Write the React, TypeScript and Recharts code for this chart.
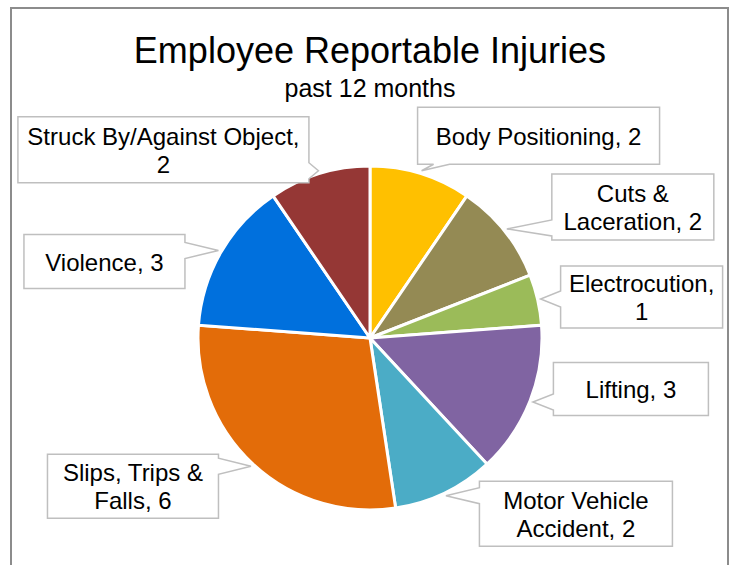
import { Cell, Pie, PieChart } from 'recharts';

const categories = [
  'Body Positioning',
  'Cuts & Laceration',
  'Electrocution',
  'Lifting',
  'Motor Vehicle Accident',
  'Slips, Trips & Falls',
  'Violence',
  'Struck By/Against Object',
];
const injuryCounts = [2, 2, 1, 3, 2, 6, 3, 2];
const sliceColors = ['#FFC000', '#948A54', '#9BBB59', '#8064A2', '#4BACC6', '#E36C09', '#0070DD', '#953735'];

// callout box placement, relative to the tip on the slice edge
// firstLine = how many words go on the first line (0 = single line)
const callouts = [
  { dx: 117, dy: -35, w: 242, h: 57, firstLine: 0 },
  { dx: 126, dy: -22, w: 162, h: 66, firstLine: 2 },
  { dx: 101, dy: -2, w: 162, h: 62, firstLine: 1 },
  { dx: 98, dy: -13, w: 155, h: 53, firstLine: 0 },
  { dx: 130, dy: 18, w: 193, h: 65, firstLine: 2 },
  { dx: -118, dy: 20, w: 171, h: 64, firstLine: 3 },
  { dx: -114, dy: 11, w: 161, h: 54, firstLine: 0 },
  { dx: -155, dy: -21, w: 291, h: 66, firstLine: 3 },
];

const data = categories.map((name, i) => ({ name, value: injuryCounts[i] }));

const FONT = "'Liberation Sans', Arial, sans-serif";
const RAD = Math.PI / 180;
const clamp = (v: number, lo: number, hi: number) => Math.max(lo, Math.min(hi, v));

function calloutPath(x0: number, y0: number, x1: number, y1: number, tx: number, ty: number) {
  const half = 8;
  const pts: [number, number][] = [];
  if (ty < y0) {
    const c = clamp(tx, x0 + 24, x1 - 24);
    pts.push([x0, y0], [c - half, y0], [tx, ty], [c + half, y0], [x1, y0], [x1, y1], [x0, y1]);
  } else if (tx > x1) {
    const c = clamp(ty, y0 + 12, y1 - 12);
    pts.push([x0, y0], [x1, y0], [x1, c - half], [tx, ty], [x1, c + half], [x1, y1], [x0, y1]);
  } else if (ty > y1) {
    const c = clamp(tx, x0 + 24, x1 - 24);
    pts.push([x0, y0], [x1, y0], [x1, y1], [c + half, y1], [tx, ty], [c - half, y1], [x0, y1]);
  } else {
    const c = clamp(ty, y0 + 12, y1 - 12);
    pts.push([x0, y0], [x1, y0], [x1, y1], [x0, y1], [x0, c + half], [tx, ty], [x0, c - half]);
  }
  return 'M' + pts.map((p) => `${p[0]},${p[1]}`).join('L') + 'Z';
}

function renderCallout(props: any) {
  const { cx, cy, midAngle, outerRadius, index, name, value } = props;
  const r = outerRadius + 3;
  const tx = cx + r * Math.cos(-midAngle * RAD);
  const ty = cy + r * Math.sin(-midAngle * RAD);
  const c = callouts[index];
  const bx = tx + c.dx;
  const by = ty + c.dy;
  const x0 = bx - c.w / 2;
  const y0 = by - c.h / 2;
  const words = `${name}, ${value}`.split(' ');
  const lines = c.firstLine ? [words.slice(0, c.firstLine).join(' '), words.slice(c.firstLine).join(' ')] : [words.join(' ')];
  const lh = 28;
  const startY = by - ((lines.length - 1) * lh) / 2;
  return (
    <g key={`callout-${index}`}>
      <path d={calloutPath(x0, y0, x0 + c.w, y0 + c.h, tx, ty)} fill="#fff" stroke="#BFBFBF" strokeWidth={1.5} />
      <text x={bx} y={startY} textAnchor="middle" dominantBaseline="central" fontSize={24} fill="#000" fontFamily={FONT}>
        {lines.map((ln, i) => (
          <tspan key={i} x={bx} y={startY + i * lh}>{ln}</tspan>
        ))}
      </text>
    </g>
  );
}

export default function App() {
  return (
    <div style={{ position: 'absolute', left: 0, top: 0, width: 734, height: 565, background: '#fff' }}>
      <svg width={734} height={565} style={{ position: 'absolute', left: 0, top: 0 }}>
        <rect x={11} y={8} width={717} height={600} fill="#fff" stroke="#8C8C8C" strokeWidth={2} />
        <text x={370} y={63} textAnchor="middle" fontSize={36} fontFamily={FONT} fill="#000">
          Employee Reportable Injuries
        </text>
        <text x={370} y={97} textAnchor="middle" fontSize={25} fontFamily={FONT} fill="#000">
          past 12 months
        </text>
      </svg>
      <PieChart width={734} height={565} margin={{ top: 0, right: 0, bottom: 0, left: 0 }}
        style={{ position: 'absolute', left: 0, top: 0 }}>
        <Pie
          data={data}
          dataKey="value"
          nameKey="name"
          cx={370}
          cy={338}
          outerRadius={172}
          startAngle={90}
          endAngle={-270}
          stroke="#fff"
          strokeWidth={3}
          label={renderCallout}
          labelLine={false}
          isAnimationActive={false}
        >
          {data.map((d, i) => <Cell key={d.name} fill={sliceColors[i]} />)}
        </Pie>
      </PieChart>
    </div>
  );
}
